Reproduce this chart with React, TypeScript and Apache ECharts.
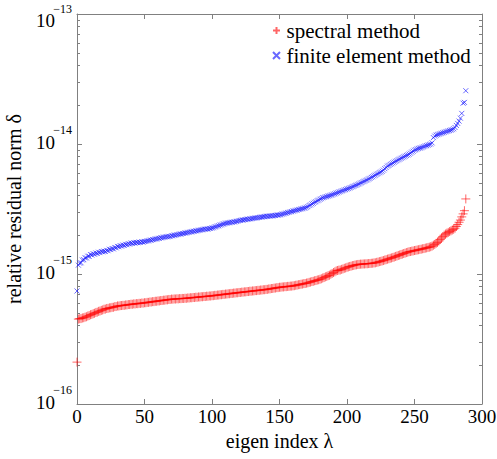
import React, { useEffect, useRef } from "react";
import * as echarts from "echarts";

const FONT = "Liberation Serif";

const xTicks = [0, 50, 100, 150, 200, 250, 300];
const yMajor = [1e-16, 1e-15, 1e-14, 1e-13];

const spectral = [
  2.1e-16,
  4.5e-16, 4.53e-16, 4.54e-16, 4.59e-16, 4.61e-16, 4.66e-16, 4.69e-16, 4.75e-16, 4.79e-16, 4.86e-16,
  4.89e-16, 4.95e-16, 4.99e-16, 5.06e-16, 5.09e-16, 5.16e-16, 5.19e-16, 5.25e-16, 5.29e-16, 5.36e-16,
  5.37e-16, 5.43e-16, 5.44e-16, 5.49e-16, 5.5e-16, 5.54e-16, 5.55e-16, 5.61e-16, 5.62e-16, 5.68e-16,
  5.67e-16, 5.71e-16, 5.72e-16, 5.74e-16, 5.74e-16, 5.78e-16, 5.78e-16, 5.82e-16, 5.82e-16, 5.86e-16,
  5.85e-16, 5.89e-16, 5.88e-16, 5.92e-16, 5.91e-16, 5.95e-16, 5.94e-16, 5.98e-16, 5.97e-16, 6.01e-16,
  6.01e-16, 6.05e-16, 6.05e-16, 6.09e-16, 6.09e-16, 6.13e-16, 6.13e-16, 6.17e-16, 6.17e-16, 6.21e-16,
  6.21e-16, 6.25e-16, 6.25e-16, 6.29e-16, 6.29e-16, 6.33e-16, 6.33e-16, 6.37e-16, 6.37e-16, 6.41e-16,
  6.4e-16, 6.43e-16, 6.42e-16, 6.45e-16, 6.44e-16, 6.47e-16, 6.46e-16, 6.49e-16, 6.48e-16, 6.51e-16,
  6.5e-16, 6.54e-16, 6.53e-16, 6.57e-16, 6.56e-16, 6.6e-16, 6.59e-16, 6.63e-16, 6.62e-16, 6.66e-16,
  6.65e-16, 6.69e-16, 6.68e-16, 6.72e-16, 6.71e-16, 6.75e-16, 6.74e-16, 6.78e-16, 6.77e-16, 6.81e-16,
  6.81e-16, 6.85e-16, 6.85e-16, 6.89e-16, 6.89e-16, 6.93e-16, 6.93e-16, 6.97e-16, 6.97e-16, 7.01e-16,
  7.01e-16, 7.05e-16, 7.05e-16, 7.09e-16, 7.09e-16, 7.13e-16, 7.13e-16, 7.17e-16, 7.17e-16, 7.21e-16,
  7.21e-16, 7.25e-16, 7.25e-16, 7.29e-16, 7.29e-16, 7.33e-16, 7.33e-16, 7.37e-16, 7.37e-16, 7.41e-16,
  7.41e-16, 7.45e-16, 7.45e-16, 7.49e-16, 7.49e-16, 7.53e-16, 7.53e-16, 7.57e-16, 7.57e-16, 7.61e-16,
  7.62e-16, 7.67e-16, 7.68e-16, 7.73e-16, 7.74e-16, 7.79e-16, 7.8e-16, 7.85e-16, 7.86e-16, 7.91e-16,
  7.91e-16, 7.95e-16, 7.95e-16, 7.99e-16, 7.99e-16, 8.03e-16, 8.03e-16, 8.07e-16, 8.07e-16, 8.11e-16,
  8.13e-16, 8.19e-16, 8.21e-16, 8.27e-16, 8.29e-16, 8.35e-16, 8.37e-16, 8.43e-16, 8.45e-16, 8.51e-16,
  8.55e-16, 8.63e-16, 8.67e-16, 8.75e-16, 8.79e-16, 8.87e-16, 8.91e-16, 8.99e-16, 9.03e-16, 9.11e-16,
  9.19e-16, 9.31e-16, 9.39e-16, 9.51e-16, 9.59e-16, 9.71e-16, 9.79e-16, 9.96e-16, 1.009e-15, 1.026e-15,
  1.039e-15, 1.056e-15, 1.064e-15, 1.071e-15, 1.074e-15, 1.086e-15, 1.094e-15, 1.106e-15, 1.114e-15, 1.126e-15,
  1.134e-15, 1.143e-15, 1.149e-15, 1.159e-15, 1.164e-15, 1.173e-15, 1.177e-15, 1.184e-15, 1.186e-15, 1.191e-15,
  1.191e-15, 1.195e-15, 1.195e-15, 1.199e-15, 1.199e-15, 1.203e-15, 1.204e-15, 1.209e-15, 1.211e-15, 1.217e-15,
  1.219e-15, 1.229e-15, 1.235e-15, 1.245e-15, 1.251e-15, 1.261e-15, 1.269e-15, 1.281e-15, 1.289e-15, 1.301e-15,
  1.309e-15, 1.321e-15, 1.329e-15, 1.341e-15, 1.351e-15, 1.365e-15, 1.375e-15, 1.389e-15, 1.399e-15, 1.413e-15,
  1.423e-15, 1.437e-15, 1.447e-15, 1.461e-15, 1.471e-15, 1.485e-15, 1.489e-15, 1.499e-15, 1.505e-15, 1.515e-15,
  1.521e-15, 1.531e-15, 1.537e-15, 1.547e-15, 1.553e-15, 1.563e-15, 1.569e-15, 1.581e-15, 1.589e-15, 1.601e-15,
  1.609e-15, 1.621e-15, 1.639e-15, 1.666e-15, 1.689e-15, 1.721e-15, 1.749e-15, 1.791e-15, 1.839e-15, 1.891e-15,
  1.939e-15, 1.991e-15, 2.029e-15, 2.061e-15, 2.089e-15, 2.121e-15, 2.149e-15, 2.181e-15, 2.209e-15, 2.251e-15,
  2.32e-15, 2.4e-15, 2.5e-15, 2.6e-15, 2.75e-15, 2.9e-15, 3.07e-15, 3.78e-15,
];

const fem = [
  7.4e-16,
  1.17e-15, 1.21e-15, 1.22e-15, 1.28e-15, 1.29e-15, 1.33e-15, 1.33e-15, 1.37e-15, 1.37e-15, 1.41e-15,
  1.4e-15, 1.43e-15, 1.42e-15, 1.45e-15, 1.44e-15, 1.47e-15, 1.46e-15, 1.49e-15, 1.48e-15, 1.5e-15,
  1.49e-15, 1.52e-15, 1.51e-15, 1.55e-15, 1.54e-15, 1.57e-15, 1.56e-15, 1.6e-15, 1.59e-15, 1.63e-15,
  1.62e-15, 1.65e-15, 1.64e-15, 1.67e-15, 1.66e-15, 1.69e-15, 1.68e-15, 1.71e-15, 1.7e-15, 1.73e-15,
  1.72e-15, 1.74e-15, 1.73e-15, 1.75e-15, 1.74e-15, 1.76e-15, 1.75e-15, 1.77e-15, 1.76e-15, 1.78e-15,
  1.78e-15, 1.8e-15, 1.8e-15, 1.82e-15, 1.82e-15, 1.84e-15, 1.84e-15, 1.86e-15, 1.86e-15, 1.88e-15,
  1.88e-15, 1.9e-15, 1.9e-15, 1.92e-15, 1.92e-15, 1.94e-15, 1.93e-15, 1.95e-15, 1.94e-15, 1.97e-15,
  1.97e-15, 1.99e-15, 1.99e-15, 2.01e-15, 2.01e-15, 2.03e-15, 2.03e-15, 2.05e-15, 2.05e-15, 2.07e-15,
  2.07e-15, 2.09e-15, 2.09e-15, 2.11e-15, 2.11e-15, 2.13e-15, 2.13e-15, 2.15e-15, 2.15e-15, 2.17e-15,
  2.17e-15, 2.19e-15, 2.19e-15, 2.21e-15, 2.21e-15, 2.22e-15, 2.22e-15, 2.24e-15, 2.24e-15, 2.26e-15,
  2.27e-15, 2.3e-15, 2.31e-15, 2.34e-15, 2.35e-15, 2.38e-15, 2.39e-15, 2.42e-15, 2.43e-15, 2.46e-15,
  2.46e-15, 2.48e-15, 2.48e-15, 2.5e-15, 2.5e-15, 2.52e-15, 2.52e-15, 2.54e-15, 2.55e-15, 2.58e-15,
  2.58e-15, 2.6e-15, 2.6e-15, 2.62e-15, 2.62e-15, 2.64e-15, 2.64e-15, 2.66e-15, 2.66e-15, 2.68e-15,
  2.68e-15, 2.7e-15, 2.7e-15, 2.72e-15, 2.72e-15, 2.74e-15, 2.74e-15, 2.76e-15, 2.76e-15, 2.78e-15,
  2.78e-15, 2.79e-15, 2.79e-15, 2.8e-15, 2.8e-15, 2.82e-15, 2.82e-15, 2.84e-15, 2.84e-15, 2.85e-15,
  2.86e-15, 2.89e-15, 2.9e-15, 2.93e-15, 2.94e-15, 2.97e-15, 2.98e-15, 3.01e-15, 3.02e-15, 3.05e-15,
  3.06e-15, 3.09e-15, 3.1e-15, 3.13e-15, 3.14e-15, 3.17e-15, 3.18e-15, 3.21e-15, 3.22e-15, 3.26e-15,
  3.3e-15, 3.36e-15, 3.4e-15, 3.46e-15, 3.5e-15, 3.56e-15, 3.6e-15, 3.66e-15, 3.7e-15, 3.76e-15,
  3.8e-15, 3.86e-15, 3.88e-15, 3.92e-15, 3.94e-15, 3.98e-15, 4.0e-15, 4.04e-15, 4.06e-15, 4.11e-15,
  4.14e-15, 4.19e-15, 4.22e-15, 4.27e-15, 4.3e-15, 4.35e-15, 4.38e-15, 4.43e-15, 4.46e-15, 4.51e-15,
  4.54e-15, 4.59e-15, 4.63e-15, 4.69e-15, 4.73e-15, 4.79e-15, 4.83e-15, 4.89e-15, 4.94e-15, 5.01e-15,
  5.06e-15, 5.13e-15, 5.18e-15, 5.25e-15, 5.3e-15, 5.38e-15, 5.44e-15, 5.53e-15, 5.6e-15, 5.69e-15,
  5.76e-15, 5.85e-15, 5.92e-15, 6.01e-15, 6.08e-15, 6.17e-15, 6.3e-15, 6.46e-15, 6.6e-15, 6.76e-15,
  6.85e-15, 6.96e-15, 7.05e-15, 7.16e-15, 7.25e-15, 7.36e-15, 7.45e-15, 7.56e-15, 7.65e-15, 7.76e-15,
  7.85e-15, 7.96e-15, 8.05e-15, 8.16e-15, 8.25e-15, 8.36e-15, 8.5e-15, 8.66e-15, 8.8e-15, 8.96e-15,
  9.05e-15, 9.16e-15, 9.25e-15, 9.31e-15, 9.35e-15, 9.46e-15, 9.55e-15, 9.66e-15, 9.72e-15, 9.81e-15,
  9.9e-15, 1.0e-14, 1.02e-14, 1.12e-14, 1.15e-14, 1.17e-14, 1.18e-14, 1.19e-14, 1.2e-14, 1.21e-14,
  1.22e-14, 1.23e-14, 1.24e-14, 1.25e-14, 1.26e-14, 1.27e-14, 1.28e-14, 1.29e-14, 1.31e-14, 1.34e-14,
  1.39e-14, 1.44e-14, 1.5e-14, 1.58e-14, 1.72e-14, 2.06e-14, 2.09e-14, 2.57e-14,
];

const yMinor: number[] = [];
for (let d = -16; d < -13; d++) {
  for (let k = 2; k <= 9; k++) yMinor.push(k * Math.pow(10, d));
}

const PLUS = "path://M4,0L4,8M0,4L8,4";
const CROSS = "path://M0,0L8,8M8,0L0,8";
const AXIS_COLOR = "#808080";

export default function App() {
  const ref = useRef<HTMLDivElement>(null);
  useEffect(() => {
    document.body.style.margin = "0";
    const chart = echarts.init(ref.current!, null, { renderer: "svg" });
    const baseY = {
      type: "log" as const,
      logBase: 10,
      min: 1e-16,
      max: 1e-13,
      splitLine: { show: false },
    };
    const expOf = (v: number) => Math.round(Math.log10(v));
    const option: any = {
      animation: false,
      backgroundColor: "#fff",
      textStyle: { fontFamily: FONT },
      grid: { left: 77, right: 15, top: 14, bottom: 55, containLabel: false, outerBoundsMode: "none" },
      legend: {
        orient: "vertical",
        left: 267,
        top: 15,
        itemWidth: 10,
        itemHeight: 7,
        itemGap: 4,
        symbolKeepAspect: true,
        textStyle: { fontSize: 21, fontFamily: FONT, color: "#000" },
        data: ["spectral method", "finite element method"],
      },
      xAxis: [
        {
          type: "value",
          min: 0,
          max: 300,
          interval: 50,
          position: "bottom",
          name: "eigen index \u03bb",
          nameLocation: "middle",
          nameGap: 26,
          nameTextStyle: { fontSize: 20, fontFamily: FONT, color: "#000" },
          axisLine: { show: true, onZero: false, lineStyle: { color: AXIS_COLOR, width: 1 } },
          axisTick: { show: true, inside: true, length: 5, lineStyle: { color: AXIS_COLOR } },
          axisLabel: { show: true, fontSize: 19, fontFamily: FONT, color: "#000", margin: 3, customValues: xTicks },
          splitLine: { show: false },
        },
        {
          type: "value",
          min: 0,
          max: 300,
          interval: 50,
          position: "top",
          axisLine: { show: true, onZero: false, lineStyle: { color: AXIS_COLOR, width: 1 } },
          axisTick: { show: true, inside: true, length: 5, lineStyle: { color: AXIS_COLOR } },
          axisLabel: { show: false },
          splitLine: { show: false },
        },
      ],
      yAxis: [
        {
          ...baseY,
          position: "left",
          axisLine: { show: true, onZero: false, lineStyle: { color: AXIS_COLOR, width: 1 } },
          axisTick: { show: true, inside: true, length: 5, customValues: yMajor, lineStyle: { color: AXIS_COLOR } },
          axisLabel: {
            show: true,
            customValues: yMajor,
            margin: 22,
            formatter: (v: number) => (expOf(v) === -13 ? "{t|10}" : "{b|10}"),
            rich: {
              b: { fontSize: 19, fontFamily: FONT, color: "#000", padding: [0, 0, 3, 0] },
              t: { fontSize: 19, fontFamily: FONT, color: "#000", padding: [12, 0, 0, 0] },
            },
          },
        },
        {
          ...baseY,
          position: "left",
          axisLine: { show: false, onZero: false },
          axisTick: { show: true, inside: true, length: 3, customValues: yMinor, lineStyle: { color: AXIS_COLOR } },
          axisLabel: {
            show: true,
            customValues: yMajor,
            margin: 5,
            formatter: (v: number) => {
              const e = expOf(v);
              return e === -13 ? `{t|\u2212${-e}}` : `{b|\u2212${-e}}`;
            },
            rich: {
              b: { fontSize: 12, fontFamily: FONT, color: "#000", padding: [0, 0, 29, 0] },
              t: { fontSize: 12, fontFamily: FONT, color: "#000", padding: [0, 0, 11, 0] },
            },
          },
        },
        {
          ...baseY,
          position: "right",
          axisLine: { show: true, onZero: false, lineStyle: { color: AXIS_COLOR, width: 1 } },
          axisTick: { show: true, inside: true, length: 5, customValues: yMajor, lineStyle: { color: AXIS_COLOR } },
          axisLabel: { show: false },
        },
        {
          ...baseY,
          position: "right",
          axisLine: { show: false, onZero: false },
          axisTick: { show: true, inside: true, length: 3, customValues: yMinor, lineStyle: { color: AXIS_COLOR } },
          axisLabel: { show: false },
        },
      ],
      graphic: [
        {
          type: "text",
          x: 14,
          y: 209,
          rotation: Math.PI / 2,
          style: {
            text: "relative residual norm \u03b4",
            fontSize: 20,
            fontFamily: FONT,
            fill: "#000",
            textAlign: "center",
            textVerticalAlign: "middle",
            verticalAlign: "middle",
          },
        },
      ],
      series: [
        {
          name: "spectral method",
          type: "scatter",
          xAxisIndex: 0,
          yAxisIndex: 0,
          symbol: PLUS,
          symbolSize: 9,
          itemStyle: { color: "rgba(0,0,0,0)", borderColor: "rgba(255,0,0,0.75)", borderWidth: 1 },
          data: spectral.map((v, i) => [i, v]),
        },
        {
          name: "finite element method",
          type: "scatter",
          xAxisIndex: 0,
          yAxisIndex: 0,
          symbol: CROSS,
          symbolSize: 5,
          itemStyle: { color: "rgba(0,0,0,0)", borderColor: "rgba(20,20,255,0.8)", borderWidth: 1 },
          data: fem.map((v, i) => [i, v]),
        },
      ],
    };
    chart.setOption(option);
    return () => chart.dispose();
  }, []);
  return <div ref={ref} style={{ width: 497, height: 459 }} />;
}
